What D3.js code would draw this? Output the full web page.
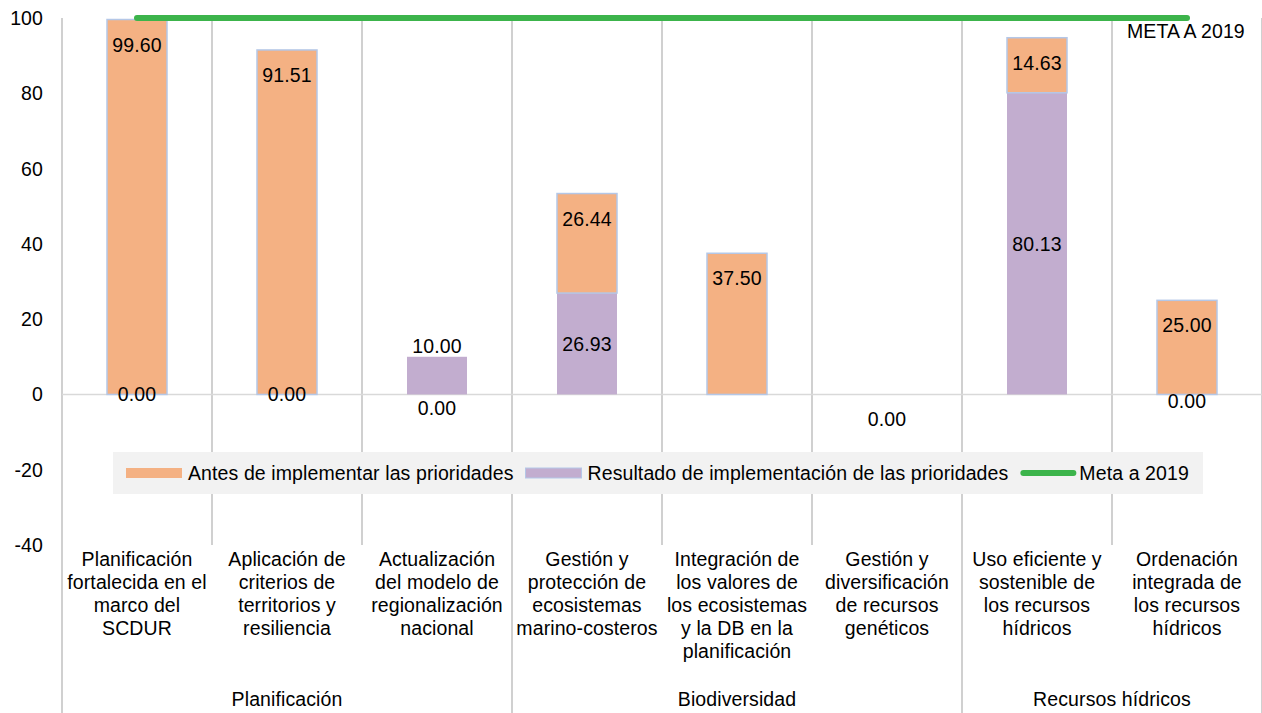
<!DOCTYPE html>
<html>
<head>
<meta charset="utf-8">
<script src="https://cdn.jsdelivr.net/npm/d3@7"></script>
<style>
	body { margin: 0; background: #fff; }
	text { font-family: "Liberation Sans", Arial, sans-serif; fill: #000; letter-spacing: 0.1px; }
</style>
</head>
<body>
<script>
var categories = [
	["Planificación", "fortalecida en el", "marco del", "SCDUR"],
	["Aplicación de", "criterios de", "territorios y", "resiliencia"],
	["Actualización", "del modelo de", "regionalización", "nacional"],
	["Gestión y", "protección de", "ecosistemas", "marino-costeros"],
	["Integración de", "los valores de", "los ecosistemas", "y la DB en la", "planificación"],
	["Gestión y", "diversificación", "de recursos", "genéticos"],
	["Uso eficiente y", "sostenible de", "los recursos", "hídricos"],
	["Ordenación", "integrada de", "los recursos", "hídricos"]
];
var groupNames = ["Planificación", "Biodiversidad", "Recursos hídricos"];
var groupSizes = [3, 3, 2];

var antes = [99.60, 91.51, 0, 26.44, 37.50, 0, 14.63, 25.00];
var resultado = [0, 0, 10.00, 26.93, 0, 0, 80.13, 0];
var meta = 100;

var antesLabels = ["99.60", "91.51", "0.00", "26.44", "37.50", "0.00", "14.63", "25.00"];
var resultadoLabels = ["0.00", "0.00", "10.00", "26.93", null, null, "80.13", "0.00"];

var yTicks = [100, 80, 60, 40, 20, 0, -20, -40];
var seriesNames = ["Antes de implementar las prioridades", "Resultado de implementación de las prioridades", "Meta a 2019"];

(function(d3) {
	var width = 1262;
	var height = 713;
	var fs = "19.5px";
	var orange = "#f4b183";
	var purple = "#c2adcf";
	var green = "#3cb44b";

	var svg = d3.select("body").append("svg")
		.attr("width", width)
		.attr("height", height);

	var x = d3.scaleBand()
		.domain(d3.range(categories.length))
		.range([62, 1262])
		.padding(0);
	var barW = 60;

	var y = d3.scaleLinear()
		.domain([-40, 100])
		.range([545, 18]);

	// vertical grid: category separators and group separators
	var bounds = d3.range(categories.length + 1);
	var groupEdges = [0];
	groupSizes.forEach(function(s, i) { groupEdges.push(groupEdges[i] + s); });

	svg.append("g").selectAll("line")
		.data(bounds)
		.enter().append("line")
		.attr("x1", function(i) { return 62 + i * x.step(); })
		.attr("x2", function(i) { return 62 + i * x.step(); })
		.attr("y1", y(100))
		.attr("y2", function(i) { return groupEdges.indexOf(i) >= 0 ? height : y(-40); })
		.attr("stroke", "#c0c0c0")
		.attr("stroke-width", 1.5);

	// zero line
	svg.append("line")
		.attr("x1", 62).attr("x2", 1262)
		.attr("y1", y(0)).attr("y2", y(0))
		.attr("stroke", "#d9d9d9")
		.attr("stroke-width", 1.5);

	// y tick labels
	svg.append("g").selectAll("text")
		.data(yTicks)
		.enter().append("text")
		.attr("x", 43)
		.attr("y", function(d) { return y(d); })
		.attr("dy", "0.36em")
		.attr("text-anchor", "end")
		.attr("font-size", fs)
		.text(function(d) { return d; });

	// stacked bars
	var bars = svg.append("g");
	bars.selectAll("rect.res")
		.data(resultado)
		.enter().append("rect")
		.attr("class", "res")
		.attr("x", function(d, i) { return x(i) + (x.step() - barW) / 2; })
		.attr("width", barW)
		.attr("y", function(d) { return y(d); })
		.attr("height", function(d) { return y(0) - y(d); })
		.attr("fill", purple);

	bars.selectAll("rect.antes")
		.data(antes.map(function(d, i) { return {v: d, i: i}; }).filter(function(d) { return d.v > 0; }))
		.enter().append("rect")
		.attr("class", "antes")
		.attr("x", function(d) { return x(d.i) + (x.step() - barW) / 2; })
		.attr("width", barW)
		.attr("y", function(d) { return y(d.v + resultado[d.i]); })
		.attr("height", function(d) { return y(resultado[d.i]) - y(d.v + resultado[d.i]); })
		.attr("fill", orange)
		.attr("stroke", "#b4c7e7")
		.attr("stroke-width", 1.5);

	// meta line
	svg.append("line")
		.attr("x1", x(0) + x.step() / 2)
		.attr("x2", x(categories.length - 1) + x.step() / 2)
		.attr("y1", y(meta)).attr("y2", y(meta))
		.attr("stroke", green)
		.attr("stroke-width", 6)
		.attr("stroke-linecap", "round");

	svg.append("text")
		.attr("x", 1127)
		.attr("y", 38)
		.attr("font-size", fs)
		.text("META A 2019");

	// data labels
	var antesShift = {2: 26};
	var resShift = {2: -30, 7: 7};
	var lab = svg.append("g").attr("font-size", fs).attr("text-anchor", "middle");
	antesLabels.forEach(function(t, i) {
		if (!t) return;
		lab.append("text")
			.attr("x", x(i) + x.step() / 2)
			.attr("y", y(antes[i] + resultado[i]) + 25 + (antesShift[i] || 0))
			.attr("dy", "0.36em")
			.text(t);
	});
	resultadoLabels.forEach(function(t, i) {
		if (!t) return;
		lab.append("text")
			.attr("x", x(i) + x.step() / 2)
			.attr("y", y(resultado[i] / 2) + (resShift[i] || 0))
			.attr("dy", "0.36em")
			.text(t);
	});

	// category labels
	var cat = svg.append("g").attr("font-size", fs).attr("text-anchor", "middle");
	categories.forEach(function(lines, i) {
		var t = cat.append("text").attr("x", x(i) + x.step() / 2).attr("y", 566);
		lines.forEach(function(l, k) {
			t.append("tspan")
				.attr("x", x(i) + x.step() / 2)
				.attr("dy", k === 0 ? 0 : 23)
				.text(l);
		});
	});

	// group labels
	svg.append("g").selectAll("text")
		.data(groupNames)
		.enter().append("text")
		.attr("x", function(d, i) { return (62 + groupEdges[i] * x.step() + 62 + groupEdges[i + 1] * x.step()) / 2; })
		.attr("y", 706)
		.attr("text-anchor", "middle")
		.attr("font-size", fs)
		.text(function(d) { return d; });

	// legend
	var legend = svg.append("g");
	legend.append("rect")
		.attr("x", 113).attr("y", 452)
		.attr("width", 1090).attr("height", 42)
		.attr("fill", "#f2f2f2");
	var lx = 126;
	var ly = 473;
	seriesNames.forEach(function(name, i) {
		if (i === 2) {
			legend.append("line")
				.attr("x1", lx + 3).attr("x2", lx + 53)
				.attr("y1", ly).attr("y2", ly)
				.attr("stroke", green)
				.attr("stroke-width", 6)
				.attr("stroke-linecap", "round");
		} else {
			legend.append("rect")
				.attr("x", lx).attr("y", ly - 5)
				.attr("width", 56).attr("height", 10)
				.attr("fill", i === 0 ? orange : purple)
				.attr("stroke", i === 0 ? "none" : "#b4c7e7")
				.attr("stroke-width", 1);
		}
		var off = i === 2 ? 59 : 62;
		var t = legend.append("text")
			.attr("x", lx + off)
			.attr("y", ly)
			.attr("dy", "0.36em")
			.attr("font-size", fs)
			.text(name);
		lx += off + t.node().getComputedTextLength() + 12;
	});
})(d3);
</script>
</body>
</html>
